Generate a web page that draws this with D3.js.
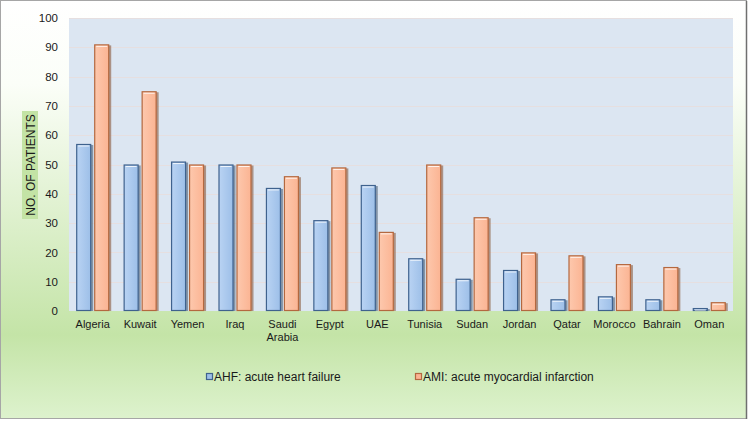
<!DOCTYPE html>
<html><head><meta charset="utf-8">
<script src="https://cdn.jsdelivr.net/npm/d3@7"></script>
<style>body{margin:0;background:#fff}svg{display:block;font-family:"Liberation Sans",Arial,sans-serif}</style>
</head><body>
<svg id="c" width="749" height="421"></svg>
<script>
const categories = ["Algeria","Kuwait","Yemen","Iraq","Saudi Arabia","Egypt","UAE","Tunisia","Sudan","Jordan","Qatar","Morocco","Bahrain","Oman"];
const ahf = [57,50,51,50,42,31,43,18,11,14,4,5,4,1];
const ami = [91,75,50,50,46,49,27,50,32,20,19,16,15,3];
const yTicks = [0,10,20,30,40,50,60,70,80,90,100];
const seriesNames = ["AHF: acute heart failure","AMI: acute myocardial infarction"];

const svg = d3.select("#c");
const defs = svg.append("defs");
const bg = defs.append("linearGradient").attr("id","bg").attr("x1",0).attr("y1",0).attr("x2",0).attr("y2",1);
bg.append("stop").attr("offset","0%").attr("stop-color","#ffffff");
bg.append("stop").attr("offset","20%").attr("stop-color","#fbfef8");
bg.append("stop").attr("offset","80%").attr("stop-color","#c4e4a7");
bg.append("stop").attr("offset","100%").attr("stop-color","#ddf2cd");
const gb = defs.append("linearGradient").attr("id","gb").attr("x1",0).attr("y1",0).attr("x2",1).attr("y2",0);
gb.append("stop").attr("offset","0%").attr("stop-color","#b9d3f3");
gb.append("stop").attr("offset","100%").attr("stop-color","#9dbfe8");
const go = defs.append("linearGradient").attr("id","go").attr("x1",0).attr("y1",0).attr("x2",1).attr("y2",0);
go.append("stop").attr("offset","0%").attr("stop-color","#fdc8ad");
go.append("stop").attr("offset","100%").attr("stop-color","#fbb493");

svg.append("rect").attr("x",0.5).attr("y",0.5).attr("width",746).attr("height",418)
  .attr("fill","url(#bg)").attr("stroke","#a6a6a6");
svg.append("line").attr("x1",746.5).attr("x2",746.5).attr("y1",1).attr("y2",419).attr("stroke","#6f6f6f").attr("stroke-width",1.5);

const m = {l:69, r:733, t:18, b:311};
const x = d3.scaleBand().domain(categories).range([m.l,m.r]).paddingInner(0).paddingOuter(0);
const y = d3.scaleLinear().domain([0,100]).range([m.b,m.t]);

svg.append("rect").attr("x",m.l).attr("y",m.t).attr("width",m.r-m.l).attr("height",m.b-m.t).attr("fill","#dce6f2");

svg.append("g").selectAll("line").data(yTicks.filter(d=>d>0)).join("line")
  .attr("x1",m.l).attr("x2",m.r).attr("y1",d=>Math.round(y(d))+0.5).attr("y2",d=>Math.round(y(d))+0.5)
  .attr("stroke","#e6dfe0").attr("stroke-width",1);

const yAxis = d3.axisLeft(y).tickValues(yTicks).tickSize(0).tickPadding(11);
const ga = svg.append("g").attr("transform",`translate(${m.l},0)`).call(yAxis);
ga.select(".domain").remove();
ga.selectAll("text").attr("font-size",11.5).attr("fill","#1a1a1a").attr("font-family","Liberation Sans, Arial, sans-serif");

const bw = 15, gap = 3;
const sub = d3.scaleBand().domain([0,1]).range([0, 2*bw+gap]).paddingInner(gap/(bw+gap/2)/2);
function drawBars(vals, idx, fill, stroke, shadow){
  const g = svg.append("g");
  const cx = d => x(d) + x.bandwidth()/2;
  const bx = (d,i) => cx(categories[i]) - (2*bw+gap)/2 + idx*(bw+gap);
  g.selectAll("rect.s").data(vals).join("rect")
    .attr("x",(d,i)=>bx(d,i)+2).attr("y",d=>y(d)+1).attr("width",bw).attr("height",d=>m.b-y(d)-1)
    .attr("fill",shadow).attr("opacity",0.6);
  g.selectAll("rect.b").data(vals).join("rect")
    .attr("x",(d,i)=>bx(d,i)+0.5).attr("y",d=>y(d)+0.5).attr("width",bw-1).attr("height",d=>Math.max(0,m.b-y(d)-1))
    .attr("fill",fill).attr("stroke",stroke).attr("stroke-width",1.2);
  g.selectAll("line.h").data(vals).join("line")
    .attr("x1",(d,i)=>bx(d,i)+2).attr("x2",(d,i)=>bx(d,i)+bw-2)
    .attr("y1",d=>y(d)+2).attr("y2",d=>y(d)+2).attr("stroke","#ffffff").attr("stroke-opacity",0.8);
}
drawBars(ahf,0,"url(#gb)","#3f628e","#4a5d75");
drawBars(ami,1,"url(#go)","#b4683f","#8a5a3e");

// x labels
const xl = svg.append("g");
categories.forEach(c=>{
  const words = c.split(" ");
  const t = xl.append("text").attr("x",x(c)+x.bandwidth()/2).attr("y",328)
    .attr("text-anchor","middle").attr("font-size",11).attr("fill","#1a1a1a");
  words.forEach((w,i)=>t.append("tspan").attr("x",x(c)+x.bandwidth()/2).attr("dy",i?12.5:0).text(w));
});

// y label
svg.append("rect").attr("x",22).attr("y",111).attr("width",16).attr("height",108).attr("fill","#c3e3a5");
svg.append("text").attr("transform","translate(35,165) rotate(-90)").attr("text-anchor","middle")
  .attr("font-size",12).attr("fill","#1a1a1a").text("NO. OF PATIENTS");

// legend
const leg = [{x:206,fill:"#9dbfe8",stroke:"#3f628e"},{x:415,fill:"#fbb493",stroke:"#b4683f"}];
leg.forEach((l,i)=>{
  svg.append("rect").attr("x",l.x+0.5).attr("y",373.5).attr("width",6).attr("height",6).attr("fill",l.fill).attr("stroke",l.stroke).attr("stroke-width",1.2);
  svg.append("text").attr("x",l.x+8).attr("y",381).attr("font-size",12).attr("fill","#1a1a1a").text(seriesNames[i]);
});
</script>
</body></html>
